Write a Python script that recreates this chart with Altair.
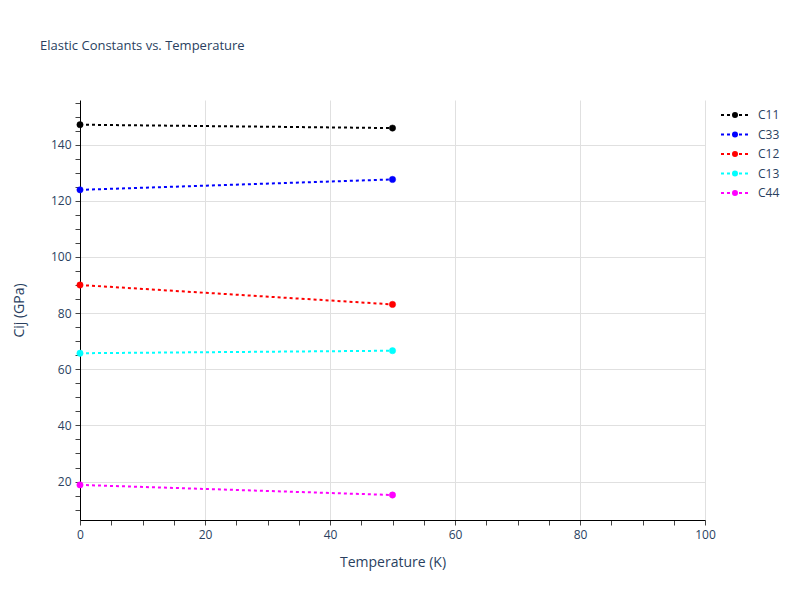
import altair as alt
import pandas as pd

temps = [0, 50]
series_names = ["C11", "C33", "C12", "C13", "C44"]
series_colors = ["black", "blue", "red", "cyan", "magenta"]
c11 = [147.1, 145.9]
c33 = [123.9, 127.6]
c12 = [90.0, 83.1]
c13 = [65.7, 66.6]
c44 = [18.8, 15.2]

rows = []
for name, vals in zip(series_names, [c11, c33, c12, c13, c44]):
    for t, v in zip(temps, vals):
        rows.append({"T": t, "Cij": v, "series": name})
df = pd.DataFrame(rows)

x_ticks = list(range(0, 101, 5))
y_ticks = list(range(10, 156, 5))

FONT = "Open Sans"
TXT = "#2a3f5f"

cscale = alt.Scale(domain=series_names, range=series_colors)

# legend glyph: dotted line (separate dash segments) with a solid dot in the middle
dashes = "M -2 0 L -1.571 0 M -1.143 0 L -0.714 0 M -0.286 0 L 0.143 0 M 0.571 0 L 1.0 0 M 1.429 0 L 1.857 0 "
dot = ("M 0.286 0 A 0.286 0.286 0 1 0 -0.286 0 A 0.286 0.286 0 1 0 0.286 0 "
       "M 0.12 0 A 0.12 0.12 0 1 0 -0.12 0 A 0.12 0.12 0 1 0 0.12 0")
legend = alt.Legend(
    title=None,
    orient="none",
    legendX=647,
    legendY=7,
    symbolType=dashes + dot,
    symbolSize=196,
    symbolStrokeWidth=2,
    labelFontSize=12,
    labelFont=FONT,
    labelColor=TXT,
    rowPadding=4.5,
    labelOffset=15,
)


def axis(title, values, grid_test, tpad):
    return alt.Axis(
        title=title,
        values=values,
        tickCount=200,
        format="d",
        labelExpr="datum.value % 20 === 0 ? datum.label : ''",
        labelOverlap=False,
        labelFlush=False,
        gridOpacity={"condition": {"test": grid_test, "value": 1}, "value": 0},
        gridColor="#e0e0e0",
        gridWidth=1,
        domainColor="black",
        domainWidth=1,
        tickColor="#444",
        tickSize=5,
        labelFontSize=12,
        labelFont=FONT,
        labelColor=TXT,
        labelPadding=4,
        titleFontSize=14,
        titleFont=FONT,
        titleColor=TXT,
        titleFontWeight="normal",
        titlePadding=tpad,
    )


x_enc = alt.X(
    "T:Q",
    scale=alt.Scale(domain=[0, 100], nice=False),
    axis=axis("Temperature (K)", x_ticks, "datum.value % 20 === 0 && datum.value > 0", 15),
)
y_enc = alt.Y(
    "Cij:Q",
    scale=alt.Scale(domain=[6.3, 155.9], nice=False, zero=False),
    axis=axis("Cij (GPa)", y_ticks, "datum.value % 20 === 0", 24),
)

base = alt.Chart(df)
points = base.mark_point(filled=True, size=40, opacity=1, shape="circle", strokeWidth=0.5).encode(
    x=x_enc,
    y=y_enc,
    fill=alt.Fill("series:N", scale=cscale, sort=series_names, legend=legend),
    stroke=alt.Stroke("series:N", scale=cscale, sort=series_names, legend=legend),
)
lines = base.mark_line(strokeDash=[3, 3], strokeWidth=2).encode(
    x="T:Q", y="Cij:Q",
    stroke=alt.Stroke("series:N", scale=cscale, sort=series_names, legend=legend),
    detail="series:N",
)

chart = (
    alt.layer(points, lines)
    .properties(
        width=625,
        height=420,
        title=alt.Title(
            "Elastic Constants vs. Temperature",
            anchor="start",
            frame="group",
            dx=-40,
            offset=44,
            fontSize=13,
            font=FONT,
            color=TXT,
            fontWeight="normal",
        ),
        autosize=alt.AutoSizeParams(type="none"),
        padding={"left": 72, "top": 92, "right": 87, "bottom": 72},
    )
    .configure(background="white")
    .configure_view(stroke=None)
)

chart.save("out.html", embed_options={"renderer": "svg", "actions": False})
